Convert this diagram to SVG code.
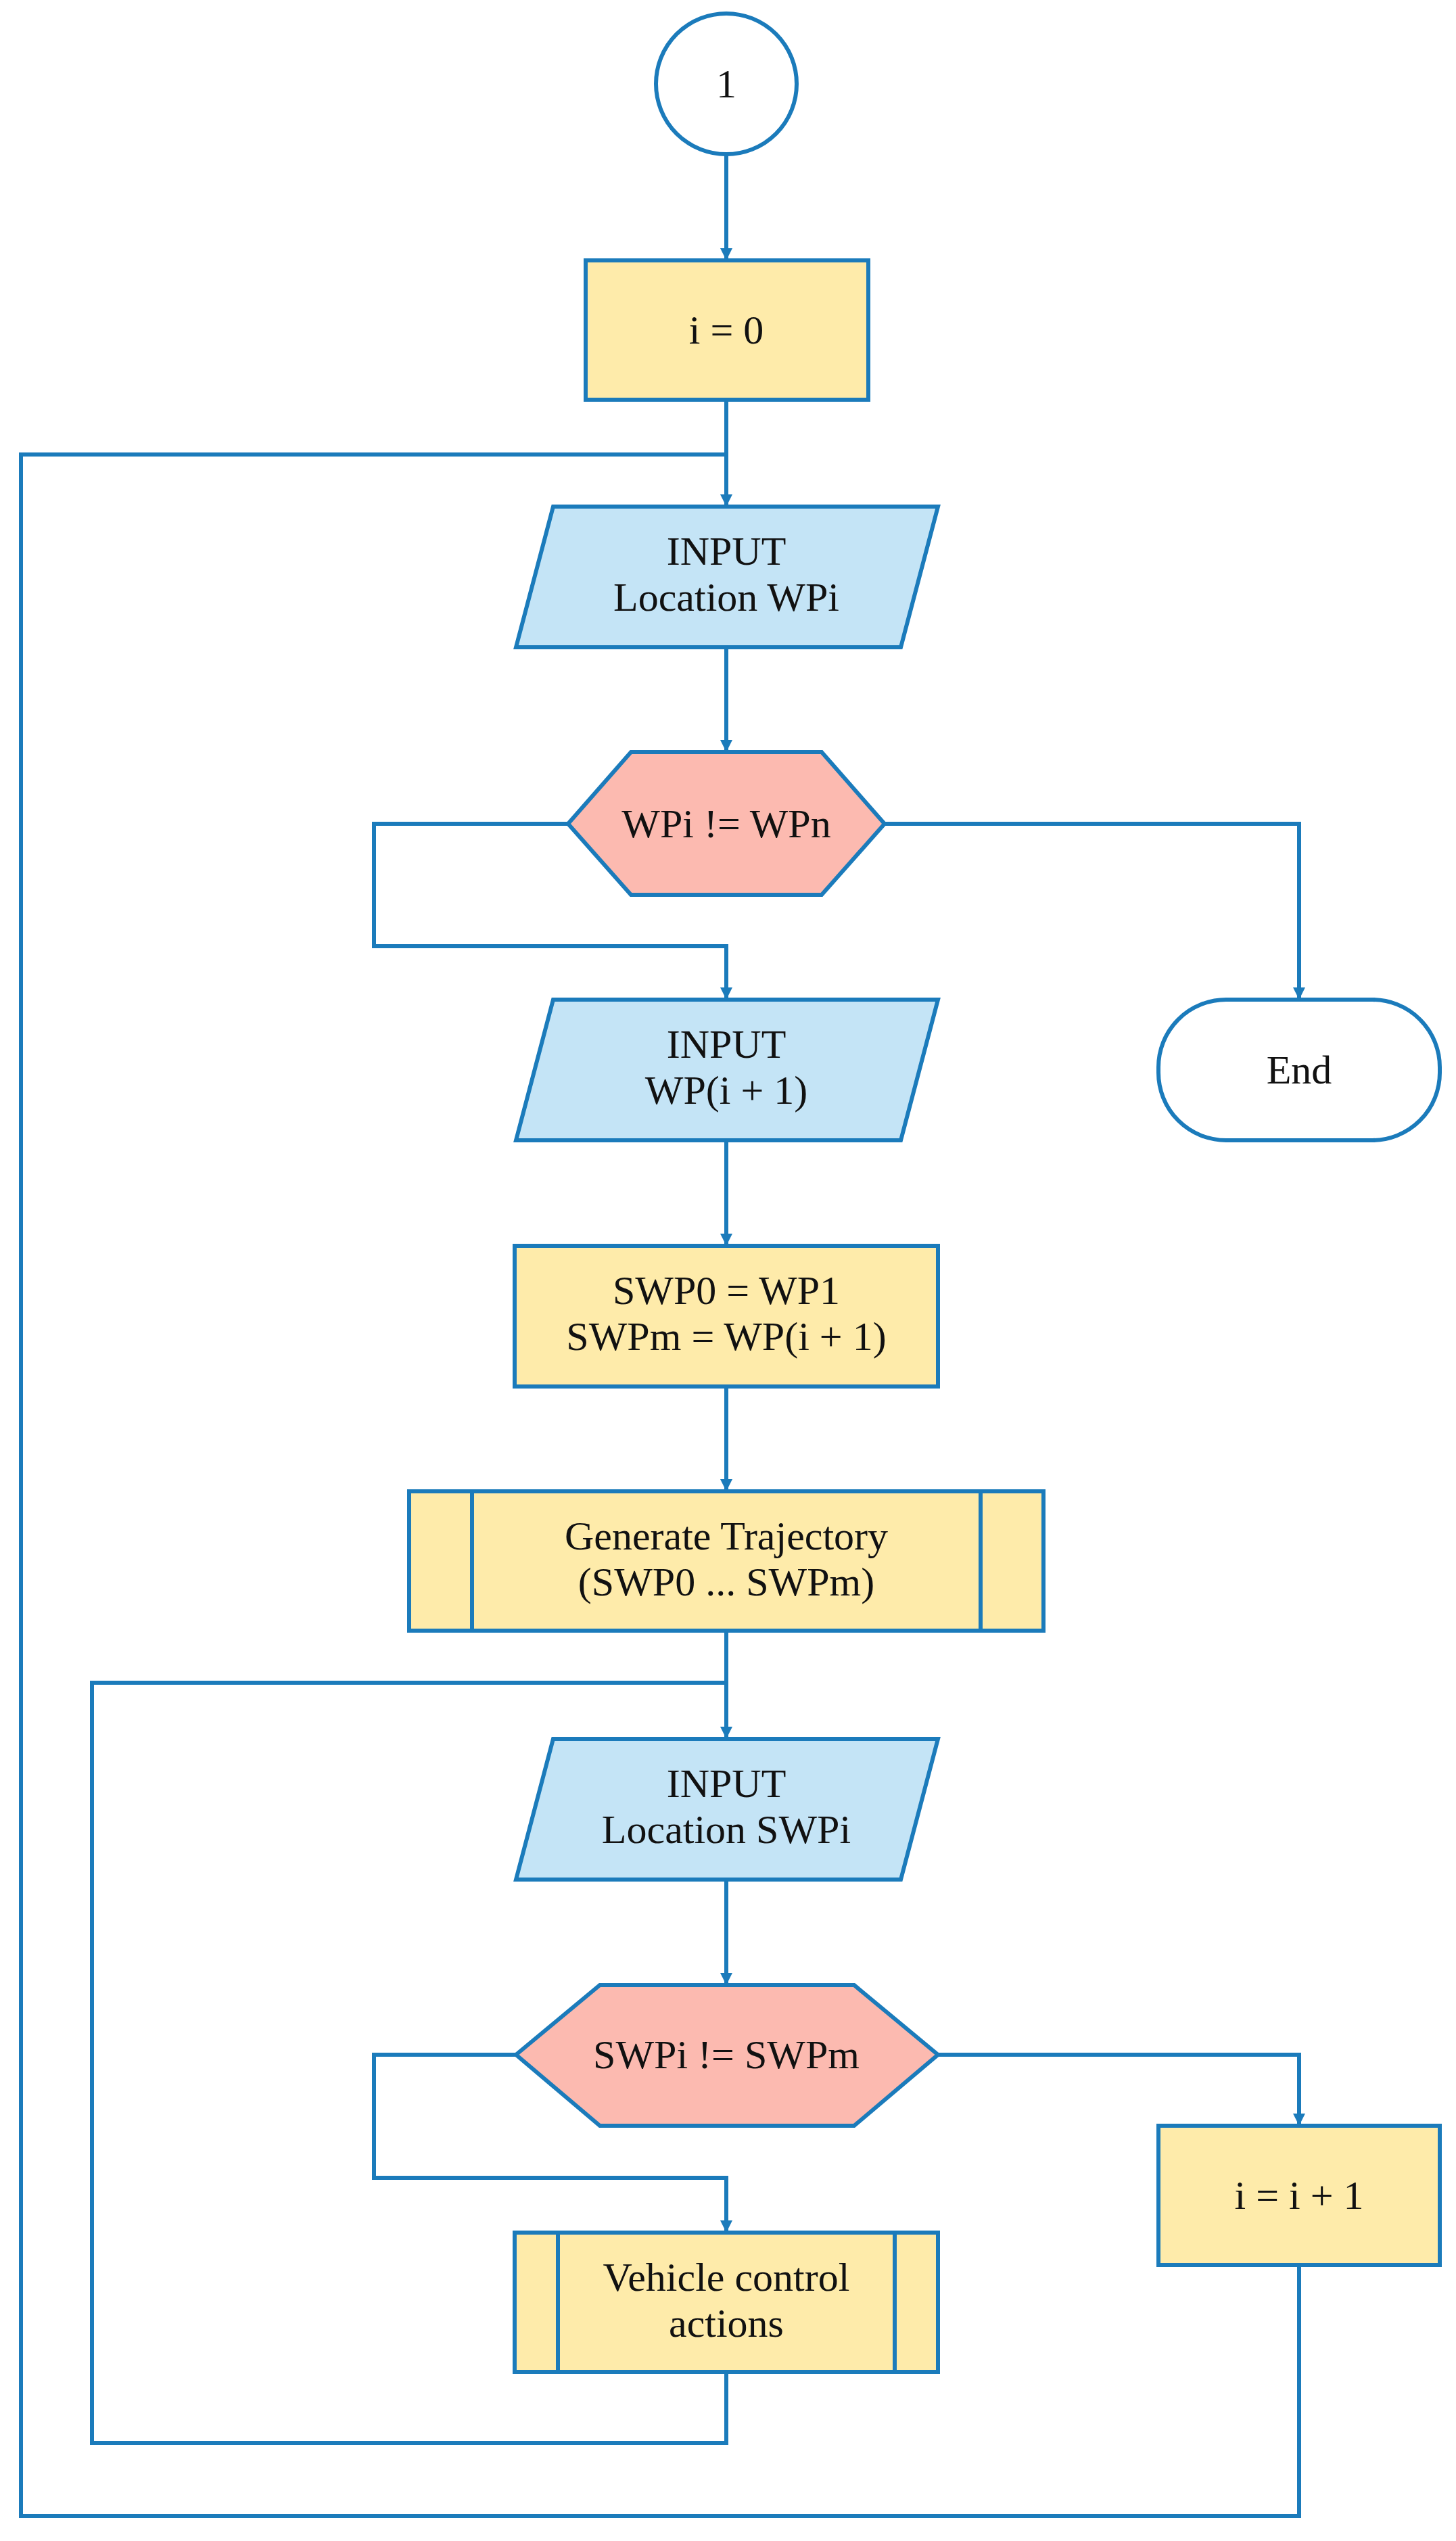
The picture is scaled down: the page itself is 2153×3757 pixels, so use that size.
<svg xmlns="http://www.w3.org/2000/svg" width="2153" height="3757" viewBox="0 0 2153 3757">
<style>
.s{stroke:#1b7bbb;stroke-width:6;}
.y{fill:#feebaa;}
.b{fill:#c4e4f6;}
.p{fill:#fcbab0;}
.w{fill:#ffffff;}
.l{fill:none;stroke:#1b7bbb;stroke-width:6;}
text{font-family:"Liberation Serif",serif;font-size:60px;fill:#111;text-anchor:middle;}
</style>
<defs>
<marker id="a" viewBox="0 0 10 10" refX="10" refY="5" markerWidth="3" markerHeight="3" orient="auto" markerUnits="strokeWidth">
<path d="M0,0L10,5L0,10z" fill="#1b7bbb"/>
</marker>
</defs>
<rect width="2153" height="3757" fill="#fff"/>
<g id="connectors">
<path class="l" d="M1074,229V385" marker-end="url(#a)"/>
<path class="l" d="M1074,591V749" marker-end="url(#a)"/>
<path class="l" d="M1074,957V1112" marker-end="url(#a)"/>
<path class="l" d="M840,1218H553V1399H1074V1478" marker-end="url(#a)"/>
<path class="l" d="M1308,1218H1921V1478" marker-end="url(#a)"/>
<path class="l" d="M1074,1686V1842" marker-end="url(#a)"/>
<path class="l" d="M1074,2050V2205" marker-end="url(#a)"/>
<path class="l" d="M1074,2411V2571" marker-end="url(#a)"/>
<path class="l" d="M1074,2779V2935" marker-end="url(#a)"/>
<path class="l" d="M763,3038H553V3220H1074V3301" marker-end="url(#a)"/>
<path class="l" d="M1387,3038H1921V3143" marker-end="url(#a)"/>
<path class="l" d="M1074,3507V3612H136V2488H1074"/>
<path class="l" d="M1921,3349V3720H31V672H1074"/>
</g>
<g id="start"><ellipse class="s w" cx="1074" cy="124" rx="104" ry="104"/><text x="1074" y="144">1</text></g>
<g id="init"><rect class="s y" x="866" y="385" width="418" height="206"/><text x="1074" y="508">i = 0</text></g>
<g id="in1"><polygon class="s b" points="818,749 1387,749 1332,957 763,957"/><text x="1074" y="835">INPUT</text><text x="1074" y="903">Location WPi</text></g>
<g id="dec1"><polygon class="s p" points="840,1218 933,1112 1215,1112 1308,1218 1215,1323 933,1323"/><text x="1074" y="1238">WPi != WPn</text></g>
<g id="end"><rect class="s w" x="1713" y="1478" width="416" height="208" rx="100" ry="100"/><text x="1921" y="1602">End</text></g>
<g id="in2"><polygon class="s b" points="818,1478 1387,1478 1332,1686 763,1686"/><text x="1074" y="1564">INPUT</text><text x="1074" y="1632">WP(i + 1)</text></g>
<g id="set"><rect class="s y" x="761" y="1842" width="626" height="208"/><text x="1074" y="1928">SWP0 = WP1</text><text x="1074" y="1996">SWPm = WP(i + 1)</text></g>
<g id="gen"><rect class="s y" x="605" y="2205" width="938" height="206"/><path class="l" d="M698,2205V2411M1450,2205V2411"/><text x="1074" y="2291">Generate Trajectory</text><text x="1074" y="2359">(SWP0 ... SWPm)</text></g>
<g id="in3"><polygon class="s b" points="818,2571 1387,2571 1332,2779 763,2779"/><text x="1074" y="2657">INPUT</text><text x="1074" y="2725">Location SWPi</text></g>
<g id="dec2"><polygon class="s p" points="763,3038 887,2935 1263,2935 1387,3038 1263,3143 887,3143"/><text x="1074" y="3058">SWPi != SWPm</text></g>
<g id="inc"><rect class="s y" x="1713" y="3143" width="416" height="206"/><text x="1921" y="3266">i = i + 1</text></g>
<g id="veh"><rect class="s y" x="761" y="3301" width="626" height="206"/><path class="l" d="M825,3301V3507M1323,3301V3507"/><text x="1074" y="3387">Vehicle control</text><text x="1074" y="3455">actions</text></g>
</svg>
